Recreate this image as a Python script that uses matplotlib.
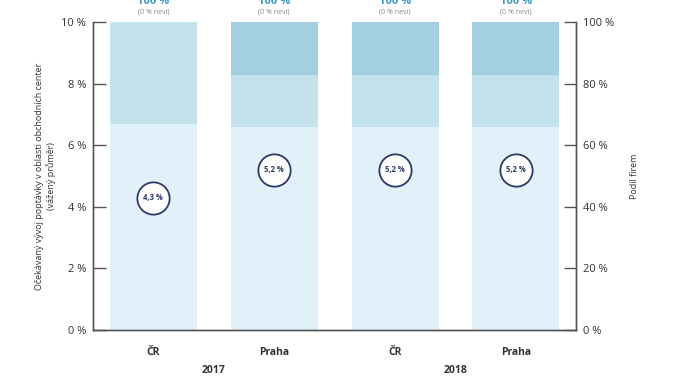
import matplotlib.pyplot as plt
from matplotlib.transforms import blended_transform_factory

plt.rcParams['font.family'] = ['Open Sans', 'DejaVu Sans']

categories = ["ČR", "Praha", "ČR", "Praha"]
years = ["2017", "2018"]
share_bottom = [67, 66, 66, 66]
share_middle = [33, 17, 17, 17]
share_top = [0, 17, 17, 17]
expected_growth = [4.3, 5.2, 5.2, 5.2]
growth_labels = ["4,3 %", "5,2 %", "5,2 %", "5,2 %"]
total_labels = ["100 %"] * 4
unknown_labels = ["(0 % neví)"] * 4

c_bottom = "#e2f1f9"
c_middle = "#c3e2ec"
c_top = "#a3cfe0"
axis_col = "#555555"
text_col = "#333333"
navy = "#2c3a66"

fig = plt.figure(figsize=(6.74, 3.80), dpi=100)
ax2 = fig.add_axes([0.138, 0.1316, 0.717, 0.810])
ax = ax2.twinx()
# left axis drawn on top so the circles sit above the bars
ax.yaxis.tick_left()
ax.yaxis.set_label_position("left")
ax2.yaxis.tick_right()
ax2.yaxis.set_label_position("right")
ax.set_zorder(ax2.get_zorder() + 1)
ax.patch.set_visible(False)

x = list(range(len(categories)))
w = 0.72
mid_base = [b for b in share_bottom]
top_base = [b + m for b, m in zip(share_bottom, share_middle)]
ax2.bar(x, share_bottom, width=w, color=c_bottom, linewidth=0)
ax2.bar(x, share_middle, width=w, bottom=mid_base, color=c_middle, linewidth=0)
ax2.bar(x, share_top, width=w, bottom=top_base, color=c_top, linewidth=0)

ax2.set_ylim(0, 100)
ax2.set_xlim(-0.5, 3.5)
ax2.set_yticks([0, 20, 40, 60, 80, 100])
ax2.set_yticklabels([f"{v} %" for v in [0, 20, 40, 60, 80, 100]])
ax2.set_ylabel("Podíl firem", fontsize=6.5, color=text_col, labelpad=11)

ax.set_ylim(0, 10)
ax.set_yticks([0, 2, 4, 6, 8, 10])
ax.set_yticklabels([f"{v} %" for v in [0, 2, 4, 6, 8, 10]])
ax.set_ylabel("Očekávaný vývoj poptávky v oblasti obchodních center\n(vážený průměr)",
              fontsize=6.5, color=text_col, labelpad=4, linespacing=1.2)

ax.scatter(x, expected_growth, s=540, facecolor="white", edgecolor=navy,
           linewidth=1.3, zorder=5)
for xi, v, lab in zip(x, expected_growth, growth_labels):
    ax.text(xi, v, lab, ha="center", va="center", fontsize=5.5,
            fontweight="bold", color=navy, zorder=6)

for xi, t, u in zip(x, total_labels, unknown_labels):
    ax2.annotate(t, (xi, 100), xytext=(0, 15), textcoords="offset points",
                 ha="center", va="center", fontsize=8, fontweight="bold",
                 color="#3a9bbf", annotation_clip=False)
    ax2.annotate(u, (xi, 100), xytext=(0, 7), textcoords="offset points",
                 ha="center", va="center", fontsize=5, color="#888888",
                 annotation_clip=False)

for a in (ax, ax2):
    a.spines["top"].set_visible(False)
    for s in ("left", "right", "bottom"):
        a.spines[s].set_color(axis_col)
        a.spines[s].set_linewidth(1.0)
    a.tick_params(axis="y", direction="in", length=9, width=1.0,
                  color=axis_col, labelsize=8, labelcolor=text_col, pad=5)

ax2.set_xticks([0.5, 1.5, 2.5])
ax2.set_xticklabels([])
ax2.tick_params(axis="x", direction="in", length=7, width=1.0, color=axis_col)
ax2.set_xticks(x, minor=True)
ax2.set_xticklabels(categories, minor=True)
ax2.tick_params(axis="x", which="minor", length=0, pad=12, labelsize=7.5,
                labelcolor=text_col)
for lab in ax2.get_xticklabels(minor=True):
    lab.set_fontweight("bold")
ax.set_xticks([])

trans = blended_transform_factory(ax2.transData, ax2.transAxes)
for xi, yr in zip([0.5, 2.5], years):
    ax2.text(xi, -0.13, yr, transform=trans, ha="center", va="center",
             fontsize=7.5, fontweight="bold", color=text_col)

fig.savefig("out.png", dpi=100)
